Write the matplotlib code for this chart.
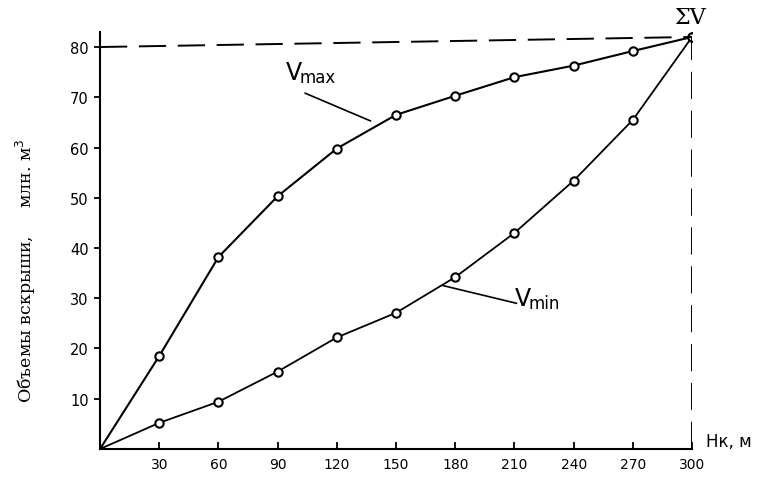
import numpy as np
import matplotlib
matplotlib.use("Agg")
import matplotlib.pyplot as plt

# depth of pit, m
depth = [30, 60, 90, 120, 150, 180, 210, 240, 270, 300]
# overburden volumes, mln m3
v_max = [18.5, 38.2, 50.3, 59.8, 66.5, 70.3, 74.0, 76.3, 79.2, 82.0]
v_min = [5.2, 9.4, 15.4, 22.2, 27.1, 34.2, 43.0, 53.4, 65.5, 82.0]
v_total = 82.0

xticks = [30, 60, 90, 120, 150, 180, 210, 240, 270, 300]
yticks = [10, 20, 30, 40, 50, 60, 70, 80]

fig = plt.figure(figsize=(7.79, 4.81), dpi=100)
ax = fig.add_axes([0.1284, 0.0645, 0.760, 0.867])

ax.plot([0] + depth, [0] + v_max, color="black", lw=1.5)
ax.plot(depth, v_max, "o", color="black", mfc="white", ms=6, mew=1.5)
ax.plot([0] + depth, [0] + v_min, color="black", lw=1.3)
ax.plot(depth, v_min, "o", color="black", mfc="white", ms=6, mew=1.5)

# dashed guides to total volume
ax.plot([0, 300], [80.0, v_total], color="black", lw=1.4, dashes=(14, 6))
ax.plot([300, 300], [0, v_total], color="black", lw=1.4, dashes=(14, 6))

ax.set_xlim(0, 300)
ax.set_ylim(0, 83)
ax.spines["top"].set_visible(False)
ax.spines["right"].set_visible(False)
ax.spines["left"].set_linewidth(1.5)
ax.spines["bottom"].set_linewidth(1.5)

ax.set_xticks(xticks)
ax.set_yticks(yticks)
ax.tick_params(axis="x", direction="in", length=5, width=1.3, labelsize=10, pad=6)
ax.tick_params(axis="y", direction="out", length=4, width=1.3, labelsize=10.5, pad=4)

ax.set_ylabel("Объемы вскрыши,     млн. м$^3$", family="DejaVu Serif",
              fontsize=12.5)
ax.yaxis.set_label_coords(-0.105, 0.43)

ax.text(307, 1.5, "Hк, м", fontsize=12, ha="left", va="center", clip_on=False)
ax.text(291, 86, "ΣV", fontsize=16, family="DejaVu Serif", ha="left",
        va="center", clip_on=False)

ax.text(94, 75, "V", fontsize=17, ha="left", va="center")
ax.text(101, 74, "max", fontsize=12, ha="left", va="center")
ax.plot([104, 137], [70.8, 65.3], color="black", lw=1.2)
ax.text(210, 30, "V", fontsize=17, ha="left", va="center")
ax.text(217, 29, "min", fontsize=12, ha="left", va="center")
ax.plot([174, 211], [32.5, 29.0], color="black", lw=1.2)

plt.savefig("out.png", dpi=100)
